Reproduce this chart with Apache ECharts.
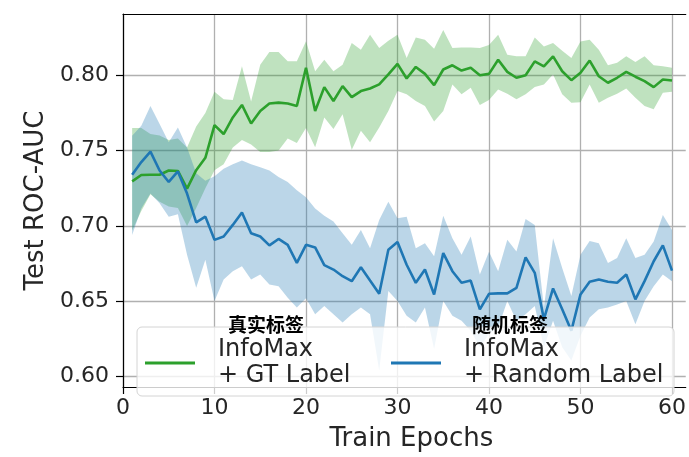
<!DOCTYPE html>
<html>
<head>
<meta charset="utf-8">
<script src="https://cdn.jsdelivr.net/npm/echarts@6/dist/echarts.min.js"></script>
<style>
html,body{margin:0;padding:0;background:#fff;}
#c{width:689px;height:457px;}
</style>
</head>
<body>
<div id="c"></div>
<script>
const epochs = [1,2,3,4,5,6,7,8,9,10,11,12,13,14,15,16,17,18,19,20,
  21,22,23,24,25,26,27,28,29,30,31,32,33,34,35,36,37,38,39,40,
  41,42,43,44,45,46,47,48,49,50,51,52,53,54,55,56,57,58,59,60];

const gtMean = [0.7296,0.7338,0.7340,0.7340,0.7368,0.7365,0.7248,0.7370,0.7452,0.7669,
  0.7610,0.7720,0.7803,0.7680,0.7763,0.7812,0.7818,0.7812,0.7796,0.8049,
  0.7763,0.7921,0.7829,0.7928,0.7855,0.7895,0.7912,0.7939,0.8005,0.8075,
  0.7978,0.8055,0.8009,0.7934,0.8038,0.8066,0.8031,0.8049,0.8000,0.8009,
  0.8103,0.8022,0.7983,0.8000,0.8092,0.8059,0.8125,0.8026,0.7967,0.8016,
  0.8097,0.7993,0.7950,0.7983,0.8022,0.7990,0.7961,0.7921,0.7972,0.7965];
const gtUpper = [0.765,0.765,0.761,0.760,0.757,0.758,0.752,0.766,0.775,0.789,
  0.784,0.7835,0.806,0.7825,0.807,0.8154,0.8154,0.8092,0.8092,0.8225,
  0.8026,0.8103,0.8026,0.807,0.8213,0.8169,0.8268,0.818,0.8228,0.8268,
  0.8114,0.825,0.8235,0.8176,0.830,0.818,0.8183,0.8183,0.818,0.820,
  0.8268,0.8136,0.8125,0.8125,0.825,0.819,0.8213,0.8162,0.8114,0.8224,
  0.8235,0.8169,0.8066,0.8082,0.8125,0.8088,0.8125,0.8066,0.8059,0.8049];
const gtLower = [0.697,0.710,0.721,0.716,0.713,0.712,0.700,0.712,0.725,0.737,
  0.741,0.752,0.757,0.754,0.749,0.749,0.750,0.758,0.755,0.765,
  0.7522,0.772,0.7643,0.7741,0.7505,0.7632,0.7555,0.7654,0.7763,0.7895,
  0.7873,0.7829,0.7796,0.7693,0.7763,0.7939,0.7873,0.7917,0.7803,0.7835,
  0.7906,0.7877,0.784,0.7873,0.7921,0.7939,0.8005,0.7873,0.7818,0.782,
  0.7939,0.7818,0.7851,0.7877,0.7912,0.7851,0.7796,0.7774,0.7884,0.7891];

const rlMean = [0.7340,0.7424,0.7493,0.7368,0.7292,0.7362,0.7215,0.7024,0.7062,0.6908,
  0.6930,0.7007,0.7090,0.6952,0.6930,0.6871,0.6914,0.6875,0.6755,0.6875,
  0.6858,0.6740,0.6711,0.6667,0.6634,0.6726,0.6638,0.6551,0.6842,0.6893,
  0.6743,0.6623,0.6711,0.6546,0.6820,0.6700,0.6623,0.6638,0.6447,0.6550,
  0.6553,0.6553,0.6590,0.6792,0.6689,0.6382,0.6586,0.6447,0.6305,0.6546,
  0.6630,0.6645,0.6630,0.6623,0.6678,0.6513,0.6634,0.6766,0.6871,0.6704];
const rlUpper = [0.7599,0.7664,0.7796,0.7676,0.7555,0.7654,0.752,0.735,0.730,0.733,
  0.738,0.741,0.7434,0.741,0.739,0.7368,0.7325,0.7292,0.7237,0.7190,
  0.7116,0.7068,0.7029,0.6952,0.6875,0.6974,0.6853,0.704,0.716,0.7051,
  0.7062,0.6853,0.6886,0.6799,0.7068,0.6919,0.6809,0.693,0.6678,0.6829,
  0.670,0.6908,0.6831,0.7046,0.7007,0.6459,0.6919,0.6722,0.6536,0.6809,
  0.6901,0.6886,0.6755,0.6788,0.6919,0.6788,0.6809,0.6897,0.7072,0.6974];
const rlLower = [0.6941,0.7116,0.7215,0.715,0.7062,0.7077,0.6809,0.659,0.6776,0.6503,
  0.6645,0.670,0.6733,0.6645,0.6678,0.6612,0.6601,0.6524,0.6459,0.652,
  0.6414,0.647,0.6414,0.636,0.6414,0.6459,0.6414,0.6042,0.6568,0.6503,
  0.6404,0.636,0.6459,0.6184,0.6503,0.6404,0.6371,0.6305,0.6195,0.6283,
  0.6327,0.6503,0.6371,0.6414,0.647,0.6195,0.6371,0.6195,0.6108,0.6272,
  0.6393,0.6447,0.6459,0.648,0.6503,0.6349,0.6503,0.6601,0.6678,0.6634];

const xTicks = [0, 10, 20, 30, 40, 50, 60];
const yTicks = [0.60, 0.65, 0.70, 0.75, 0.80];
const gtName = 'InfoMax\n+ GT Label';
const rlName = 'InfoMax\n+ Random Label';
const gtTitle = '真实标签';
const rlTitle = '随机标签';

const GREEN = '#2ca02c', BLUE = '#1f77b4';
const FONT = 'DejaVu Sans';
const TXT = '#262626';
const X_MAX = 61.5;

const pairs = (ys) => epochs.map((e, i) => [e, ys[i]]);

function band(id, hi, lo, color) {
  return {
    name: id + '_band', type: 'custom', silent: true, z: 2, clip: true,
    data: epochs.map((e, i) => [e, lo[i], hi[i]]),
    encode: { x: 0, y: [1, 2] },
    renderItem: function (params, api) {
      if (params.dataIndexInside !== 0) return null;
      const n = params.dataInsideLength;
      const top = [], bot = [];
      for (let i = 0; i < n; i++) {
        const x = api.value(0, i);
        bot.push(api.coord([x, api.value(1, i)]));
        top.push(api.coord([x, api.value(2, i)]));
      }
      return {
        type: 'polygon',
        shape: { points: bot.concat(top.reverse()) },
        style: { fill: color, stroke: null }
      };
    }
  };
}

const chart = echarts.init(document.getElementById('c'), null, { renderer: 'canvas' });
const legendIcon = 'path://M0,0L50,0L50,3L0,3ZM68,0L68,3';
chart.setOption({
  animation: false,
  backgroundColor: '#fff',
  grid: { left: 123, top: 14, right: 0, bottom: 67, show: false },
  xAxis: [{
    type: 'value', min: 0, max: X_MAX,
    name: 'Train Epochs', nameLocation: 'middle', nameGap: 39,
    nameTextStyle: { fontFamily: FONT, fontSize: 26, color: TXT, padding: [0, 0, 0, 14] },
    axisLine: { show: true, onZero: false, lineStyle: { color: '#000', width: 1.2 } },
    axisTick: { show: true, inside: false, length: 7, customValues: xTicks, lineStyle: { color: '#000', width: 1.2 } },
    axisLabel: { customValues: xTicks, fontFamily: FONT, fontSize: 22, color: TXT, margin: 10 },
    splitLine: { show: true, lineStyle: { color: '#b0b0b0', width: 1.3 } }
  }, {
    type: 'value', position: 'top', min: 0, max: X_MAX,
    axisLine: { show: true, onZero: false, lineStyle: { color: '#000', width: 1.2 } },
    axisTick: { show: false }, axisLabel: { show: false }, splitLine: { show: false }
  }],
  yAxis: {
    type: 'value', min: 0.5932, max: 0.8406,
    name: 'Test ROC-AUC', nameLocation: 'middle', nameGap: 74,
    nameTextStyle: { fontFamily: FONT, fontSize: 26, color: TXT },
    axisLine: { show: true, onZero: false, lineStyle: { color: '#000', width: 1.2 } },
    axisTick: { show: true, length: 7, customValues: yTicks, lineStyle: { color: '#000', width: 1.2 } },
    axisLabel: { customValues: yTicks, fontFamily: FONT, fontSize: 22, color: TXT, margin: 14,
      formatter: v => v.toFixed(2) },
    splitLine: { show: true, lineStyle: { color: '#b0b0b0', width: 1.3 } }
  },
  legend: [
    { data: [{ name: gtName, icon: legendIcon }], left: 145, top: 337, padding: 0,
      itemWidth: 68, itemHeight: 3, z: 30, selectedMode: false,
      textStyle: { fontFamily: FONT, fontSize: 24, lineHeight: 26, color: TXT } },
    { data: [{ name: rlName, icon: legendIcon }], left: 391, top: 337, padding: 0,
      itemWidth: 68, itemHeight: 3, z: 30, selectedMode: false,
      textStyle: { fontFamily: FONT, fontSize: 24, lineHeight: 26, color: TXT } }
  ],
  graphic: [
    { type: 'rect', z: 20, shape: { x: 137, y: 327, width: 537, height: 69, r: 5 },
      style: { fill: 'rgba(255,255,255,0.8)', stroke: '#d4d4d4', lineWidth: 1 } },
    { type: 'text', z: 31, x: 266, y: 325,
      style: { text: gtTitle, fontFamily: 'Noto Sans CJK SC', fontWeight: 'bold', fontSize: 19,
        fill: '#000', align: 'center', verticalAlign: 'middle' } },
    { type: 'text', z: 31, x: 510, y: 325,
      style: { text: rlTitle, fontFamily: 'Noto Sans CJK SC', fontWeight: 'bold', fontSize: 19,
        fill: '#000', align: 'center', verticalAlign: 'middle' } }
  ],
  series: [
    band('gt', gtUpper, gtLower, 'rgba(44,160,44,0.3)'),
    { name: gtName, type: 'line', data: pairs(gtMean), symbol: 'none', color: GREEN,
      lineStyle: { color: GREEN, width: 2.6 }, z: 3 },
    band('rl', rlUpper, rlLower, 'rgba(31,119,180,0.3)'),
    { name: rlName, type: 'line', data: pairs(rlMean), symbol: 'none', color: BLUE,
      lineStyle: { color: BLUE, width: 2.6 }, z: 3 }
  ]
});
</script>
</body>
</html>
